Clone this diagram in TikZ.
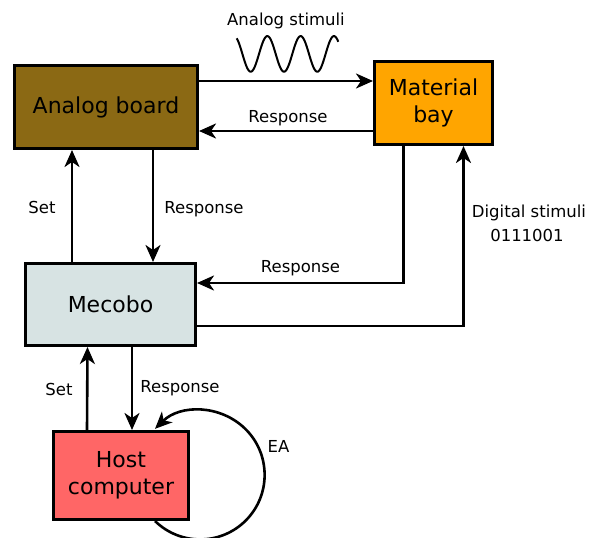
\documentclass[tikz,border=0pt]{standalone}
\usepackage{fontspec}
\setmainfont{DejaVu Sans}
\usetikzlibrary{arrows.meta,backgrounds,calc}

\definecolor{boardbrown}{HTML}{8B6914}
\definecolor{bayorange}{HTML}{FFA500}
\definecolor{mecobogrey}{HTML}{D7E3E3}
\definecolor{hostred}{HTML}{FF6666}

\tikzset{
  unit/.style={draw=black, line width=2.7pt, inner sep=0pt, align=center,
    font=\fontsize{22}{27}\selectfont},
  flow/.style={line width=2.6pt,
    -{Stealth[length=17pt,width=15pt,inset=5pt]}},
  lbl/.style={inner sep=0pt, anchor=base, align=center,
    font=\fontsize{16.5}{20}\selectfont},
}

\begin{document}
\begin{tikzpicture}[x=1pt,y=-1pt]
\useasboundingbox (0,0) rectangle (589,538);

% blocks
\node[unit, fill=boardbrown, minimum width=183.3pt, minimum height=83.3pt]
  (ab) at (106,107) {Analog board};
\node[unit, fill=bayorange, minimum width=118.3pt, minimum height=83.3pt]
  (mb) at (433.5,103) {Material\\bay};
\node[unit, fill=mecobogrey, minimum width=170.3pt, minimum height=82.3pt]
  (mec) at (110.5,304.5) {Mecobo};
\node[unit, fill=hostred, minimum width=135.3pt, minimum height=88.3pt]
  (host) at (121,475.5) {Host\\computer};

% evolutionary loop on the host, drawn behind the box
\begin{scope}[on background layer]
  \draw[flow] ($(host.south)+(34,0)$) arc[start angle=134.4, end angle=-134.4, radius=64.5];
\end{scope}

% analog stimulus waveform (period 33.3, i.e. 10.811 degrees per unit)
\draw[line width=2pt] plot[domain=236.7:338.3, samples=160, smooth]
  (\x, {53.9+17.8*cos(10.811*(\x-250.7))});

% connectors
\draw[flow] (ab.east |- 0,81) -- (mb.west |- 0,81);
\draw[flow] (mb.west |- 0,131) -- (ab.east |- 0,131);
\draw[flow] (mec.north -| 72,0) -- (ab.south -| 72,0);
\draw[flow] (ab.south -| 153,0) -- (mec.north -| 153,0);
\draw[flow] (mb.south -| 403.5,0) |- (mec.east |- 0,283);
\draw[flow] (mec.east |- 0,326) -| (mb.south -| 463.5,0);
\draw[flow] (host.north -| 87,0) -- (mec.south -| 87.5,0);
\draw[flow] (mec.south -| 132,0) -- (host.north -| 132,0);

% labels
\node[lbl] (tAnalog) at (286,25) {Analog stimuli};
\node[lbl] (tResp1) at (288,122) {Response};
\node[lbl] (tSet1) at (42,213) {Set};
\node[lbl] (tResp2) at (204,213) {Response};
\node[lbl] (tResp3) at (300.5,272) {Response};
\node[lbl] (tDigital) at (529,217) {Digital stimuli};
\node[lbl] (tBits) at (527,241) {0111001};
\node[lbl] (tSet2) at (59,395) {Set};
\node[lbl] (tResp4) at (180,392) {Response};
\node[lbl] (tEA) at (278.5,452) {EA};
\end{tikzpicture}
\end{document}
